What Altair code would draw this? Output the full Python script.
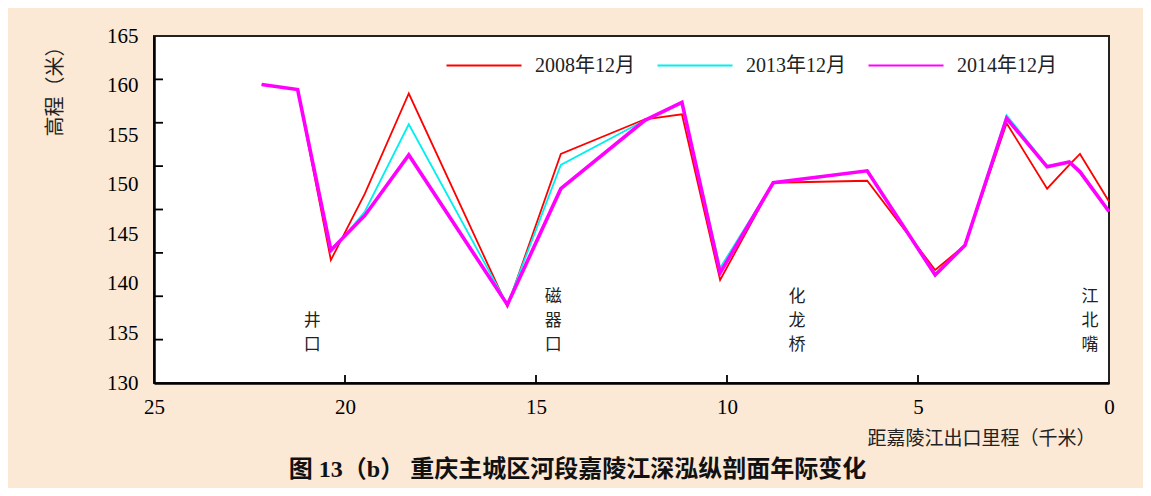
import altair as alt
import pandas as pd

# ---- data ----
km = [22.18, 21.24, 20.37, 19.48, 18.33, 15.75, 14.35, 12.15, 11.18, 10.18,
      8.79, 6.33, 4.55, 3.77, 2.68, 1.62, 1.04, 0.76, 0.0]
elev_2008 = [160.1, 159.6, 142.4, 149.1, 159.2, 137.7, 153.1, 156.6, 157.1, 140.4,
             150.2, 150.4, 141.4, 143.9, 156.2, 149.6, 152.0, 153.1, 148.3]
elev_2013 = [160.1, 159.6, 143.2, 147.3, 156.1, 137.9, 152.0, 156.5, 158.3, 141.6,
             150.2, 151.4, 140.8, 143.9, 157.0, 151.9, 152.3, 151.4, 147.3]
elev_2014 = [160.1, 159.6, 143.4, 146.9, 153.0, 137.9, 149.6, 156.5, 158.3, 141.1,
             150.2, 151.4, 140.9, 143.9, 156.7, 151.8, 152.3, 151.3, 147.3]
series_names = ["2008年12月", "2013年12月", "2014年12月"]
series_colors = ["#FF0000", "#00F0F0", "#FF00FF"]

place_names = ["井口", "磁器口", "化龙桥", "江北嘴"]
place_km = [20.86, 14.55, 8.17, 0.5]

x_tick_labels = [25, 20, 15, 10, 5, 0]
y_tick_labels = [130, 135, 140, 145, 150, 155, 160, 165]
y_tick_marks = [134.375, 138.75, 143.125, 147.5, 151.875, 156.25, 160.625]
x_tick_marks = [20, 15, 10, 5]

# ---- tables ----
rows = []
for name, vals in zip(series_names, [elev_2008, elev_2013, elev_2014]):
    for k, v in zip(km, vals):
        rows.append({"km": k, "elev": v, "series": name})
df = pd.DataFrame(rows)
places = pd.DataFrame({"km": place_km, "name": place_names})
yt = pd.DataFrame({"v": y_tick_marks})
xt = pd.DataFrame({"v": x_tick_marks})

SERIF = "'Liberation Serif', 'Noto Sans CJK SC', serif"
CJK = "'Noto Sans CJK SC', sans-serif"

xscale = alt.Scale(domain=[25, 0], nice=False, zero=False)
yscale = alt.Scale(domain=[130, 165], nice=False, zero=False)

xaxis = alt.Axis(values=x_tick_labels, tickSize=0, labelPadding=13, grid=False,
                 domainColor="black", domainWidth=2.5, labelFont=SERIF, labelFontSize=21,
                 labelColor="black", title="距嘉陵江出口里程（千米）", titleFont=SERIF,
                 titleFontSize=19, titleFontWeight="normal", titleColor="#222",
                 titleX=941, titleY=55, titleAlign="right", titleBaseline="middle",
                 labelFlush=False)
yaxis = alt.Axis(values=y_tick_labels, tickSize=0, labelPadding=16, grid=False,
                 domainColor="black", domainWidth=2.5, labelFont=SERIF, labelFontSize=21,
                 labelColor="black", title="高程（米）", titleFont=SERIF, titleFontSize=20,
                 titleFontWeight="normal", titleColor="#222", titleX=-99, titleY=50,
                 titleAngle=-90, titleAlign="center", titleBaseline="middle")

lines = alt.Chart(df).mark_line(strokeJoin="miter", strokeMiterLimit=4).encode(
    x=alt.X("km:Q", scale=xscale, axis=xaxis),
    y=alt.Y("elev:Q", scale=yscale, axis=yaxis),
    color=alt.Color("series:N", scale=alt.Scale(domain=series_names, range=series_colors),
                    legend=alt.Legend(title=None, orient="none", legendX=291, legendY=-9.5,
                                      direction="horizontal", symbolType="stroke",
                                      symbolSize=5625, symbolStrokeWidth=2.2,
                                      labelFont=SERIF, labelFontSize=20, labelColor="#222",
                                      labelOffset=12, columnPadding=18, padding=0)),
    strokeWidth=alt.condition(alt.datum.series == "2014年12月", alt.value(3.6), alt.value(1.8)),
    order=alt.Order("km:Q"),
)

ytick_layer = alt.Chart(yt).mark_rule(color="black", strokeWidth=1.8).encode(
    y=alt.Y("v:Q", scale=yscale), x=alt.value(0), x2=alt.value(9))
xtick_layer = alt.Chart(xt).mark_rule(color="black", strokeWidth=1.8).encode(
    x=alt.X("v:Q", scale=xscale), y=alt.value(347), y2=alt.value(339))

labels = alt.Chart(places).transform_calculate(
    label="join(split(datum.name, ''), '\\n')",
    ypix="309 - (length(datum.name) - 1) * 24",
).mark_text(font=CJK, fontSize=17, color="#222", lineBreak="\n", lineHeight=24,
            baseline="middle", align="center").encode(
    x=alt.X("km:Q", scale=xscale), y=alt.Y("ypix:Q", scale=None), text="label:N")

chart = alt.layer(lines, ytick_layer, xtick_layer, labels).properties(
    width=955, height=347,
    autosize=alt.AutoSizeParams(type="none"),
    padding={"left": 146, "top": 28, "right": 34, "bottom": 105},
    background="#FBE8D5",
    title=alt.TitleParams(text="图 13（b） 重庆主城区河段嘉陵江深泓纵剖面年际变化",
                          orient="bottom", anchor="middle", font=SERIF, fontSize=24,
                          fontWeight="bold", color="#111", dx=-54, offset=10),
).configure_view(stroke="#222", strokeWidth=2, fill="white")

chart.save("out.html", embed_options={"renderer": "svg", "actions": False})
